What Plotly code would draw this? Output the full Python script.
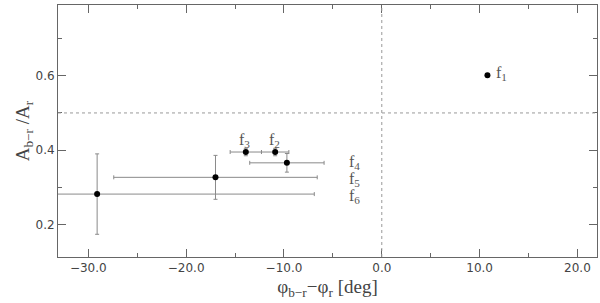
import plotly.graph_objects as go

# mode labels and measurements
modes = ["f1", "f2", "f3", "f4", "f5", "f6"]
phase_diff = [10.8, -10.9, -13.9, -9.7, -17.0, -29.1]
phase_err = [0.0, 1.4, 1.6, 3.8, 10.4, 22.2]
amp_ratio = [0.601, 0.395, 0.395, 0.366, 0.327, 0.282]
amp_err = [0.0, 0.01, 0.01, 0.025, 0.059, 0.108]

# label anchor positions (data coords)
label_x = [11.5, -11.0, -14.0, -3.6, -3.6, -3.6]
label_y = [0.605, 0.427, 0.427, 0.368, 0.321, 0.275]

AX = "#666666"
TXT = "#444444"
SERIF = "Liberation Serif, DejaVu Serif, serif"
SANS = "DejaVu Sans, Liberation Sans, sans-serif"

fig = go.Figure()

fig.add_trace(go.Scatter(
    x=phase_diff, y=amp_ratio, mode="markers",
    marker=dict(color="black", size=6),
    error_x=dict(type="data", array=phase_err, color="#8a8a8a", thickness=1, width=2),
    error_y=dict(type="data", array=amp_err, color="#8a8a8a", thickness=1, width=2),
    showlegend=False, hoverinfo="x+y"
))

# dotted reference lines
fig.add_hline(y=0.5, line=dict(color="#999999", width=1, dash="dot"))
fig.add_vline(x=0.0, line=dict(color="#999999", width=1, dash="dot"))

for name, lx, ly in zip(modes, label_x, label_y):
    fig.add_annotation(
        x=lx, y=ly, xref="x", yref="y",
        text=f"{name[0]}<sub>{name[1:]}</sub>",
        showarrow=False, xanchor="left" if name in ("f1", "f4", "f5", "f6") else "center",
        font=dict(family=SERIF, size=16, color="#555555")
    )

axis_common = dict(
    showline=True, linecolor=AX, linewidth=1, mirror="allticks",
    ticks="inside", ticklen=8, tickcolor=AX, tickwidth=1,
    showgrid=False, zeroline=False, automargin=False,
    tickfont=dict(family=SANS, size=12, color=TXT),
    tickformat=".1f",
)

fig.update_layout(
    width=600, height=303,
    margin=dict(l=58, r=3, t=5, b=46),
    plot_bgcolor="white", paper_bgcolor="white",
    xaxis=dict(
        axis_common, range=[-33.1, 22.0], dtick=10, tick0=0,
        minor=dict(ticks="inside", ticklen=4, dtick=5, tickcolor=AX),
        title=dict(text="φ<sub>b−r</sub>−φ<sub>r</sub> [deg]",
                   font=dict(family=SERIF, size=19, color=TXT), standoff=5),
    ),
    yaxis=dict(
        axis_common, range=[0.113, 0.79], dtick=0.2, tick0=0,
        minor=dict(ticks="inside", ticklen=4, dtick=0.1, tickcolor=AX),
        title=dict(text="A<sub>b−r</sub> /A<sub>r</sub>",
                   font=dict(family=SERIF, size=19, color=TXT), standoff=0),
    ),
)

# drop the default page margin so the figure sits at the window origin
fig.write_html("out.html", config={"displayModeBar": False},
               post_script="document.body.style.margin='0';")
